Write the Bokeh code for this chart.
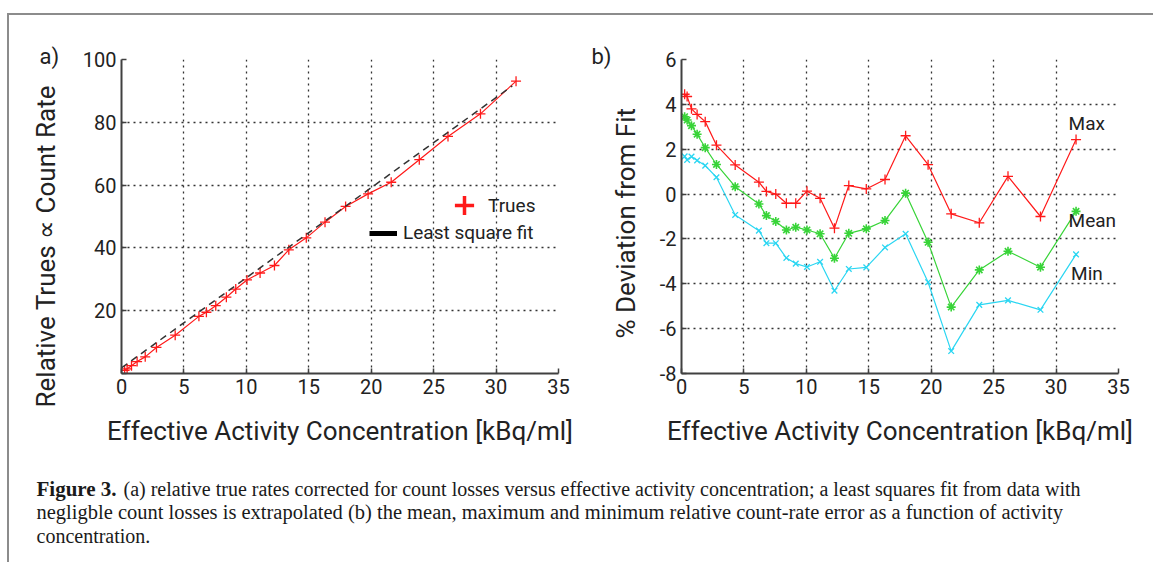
from bokeh.plotting import figure
from bokeh.models import Legend, LegendItem, Label, FixedTicker, Spacer, Range1d, Title
from bokeh.layouts import row, column
from bokeh.embed import file_html
from bokeh.resources import INLINE

# ---------------- data ----------------
conc = [0.25, 0.45, 0.8, 1.25, 1.9, 2.8, 4.3, 6.2, 6.8, 7.55, 8.4, 9.15, 10.05,
        11.1, 12.25, 13.4, 14.8, 16.3, 17.95, 19.75, 21.6, 23.85, 26.15, 28.75, 31.6]
trues = [1.0, 1.5, 2.5, 3.8, 5.3, 8.3, 12.2, 18.2, 19.5, 21.6, 24.3, 26.9, 29.8,
         32.0, 34.4, 39.4, 43.2, 48.2, 53.2, 57.2, 60.9, 68.1, 75.5, 82.7, 93.1]
fit_conc = [0.0, 31.3]
fit_trues = [1.8, 91.6]
dev_max = [4.45, 4.35, 3.8, 3.55, 3.23, 2.18, 1.3, 0.53, 0.12, 0.0, -0.41, -0.41, 0.13,
           -0.19, -1.52, 0.38, 0.23, 0.65, 2.6, 1.31, -0.88, -1.28, 0.79, -1.0, 2.43]
dev_mean = [3.45, 3.3, 3.05, 2.67, 2.07, 1.32, 0.33, -0.44, -0.96, -1.22, -1.6, -1.48, -1.6,
            -1.77, -2.86, -1.75, -1.55, -1.18, 0.04, -2.15, -5.04, -3.38, -2.55, -3.26, -0.77]
dev_min = [1.68, 1.52, 1.67, 1.5, 1.27, 0.75, -0.93, -1.63, -2.19, -2.19, -2.85, -3.1, -3.25,
           -3.02, -4.31, -3.34, -3.27, -2.38, -1.77, -3.93, -7.0, -4.94, -4.74, -5.16, -2.69]
x_ticks = [0, 5, 10, 15, 20, 25, 30, 35]
y_ticks_a = [0, 20, 40, 60, 80, 100]
y_ticks_b = [-8, -6, -4, -2, 0, 2, 4, 6]
x_label = "Effective Activity Concentration [kBq/ml]"
y_label_a = "Relative Trues \u221d Count Rate"
y_label_b = "% Deviation from  Fit"
caption_bold = "Figure 3."
caption_1 = ("(a) relative true rates corrected for count losses versus effective activity "
             "concentration; a least squares fit from data with")
caption_2 = ("negligble count losses is extrapolated (b) the mean, maximum and minimum relative "
             "count-rate error as a function of activity")
caption_3 = "concentration."

FONT = "Roboto"
AX = "#404040"
TXT = "#222222"
RED = "#ff1a1a"
GREEN = "#38d438"
CYAN = "#2ad6f2"
NAN = float("nan")


def make_fig(x_end, y_start, y_end, yticks, border_left, border_right, panel, panel_offset):
    p = figure(frame_width=437, frame_height=314,
               x_range=Range1d(0, x_end), y_range=Range1d(y_start, y_end),
               min_border_left=border_left, min_border_right=border_right,
               min_border_top=44, min_border_bottom=100,
               toolbar_location=None, output_backend="svg")
    p.outline_line_color = None
    p.background_fill_color = "white"
    p.border_fill_color = "white"
    p.title.text = panel
    p.title.align = "left"
    p.title.offset = panel_offset
    p.title.standoff = -18
    p.title.vertical_align = "bottom"
    p.title.text_font = FONT
    p.title.text_font_size = "22px"
    p.title.text_font_style = "normal"
    p.title.text_color = TXT
    p.xaxis.ticker = FixedTicker(ticks=x_ticks)
    p.yaxis.ticker = FixedTicker(ticks=yticks)
    p.xgrid.ticker = FixedTicker(ticks=x_ticks)
    p.ygrid.ticker = FixedTicker(ticks=yticks)
    p.yaxis.major_label_overrides = {t: ("-%d" % -t if t < 0 else "%d" % t) for t in yticks}
    for g in (p.xgrid, p.ygrid):
        g.grid_line_color = "#333333"
        g.grid_line_dash = "2 4"
        g.grid_line_width = 1.3
    for ax in (p.xaxis, p.yaxis):
        ax.axis_line_color = AX
        ax.axis_line_width = 2
        ax.major_tick_in = 5
        ax.major_tick_out = 0
        ax.major_tick_line_color = AX
        ax.major_tick_line_width = 1.5
        ax.minor_tick_line_color = None
        ax.major_label_text_font = FONT
        ax.major_label_text_font_size = "20px"
        ax.major_label_text_color = TXT
        ax.major_label_standoff = 5
        ax.axis_label_text_font = FONT
        ax.axis_label_text_font_size = "26px"
        ax.axis_label_text_font_style = "normal"
        ax.axis_label_text_color = TXT
    p.xaxis.axis_label = x_label
    p.xaxis.axis_label_standoff = 19
    return p


def side_title(text, offset, standoff):
    return Title(text=text, align="left", offset=offset, standoff=standoff,
                 vertical_align="bottom", text_font=FONT, text_font_size="26px",
                 text_font_style="normal", text_color=TXT)


# ---------------- panel a ----------------
p1 = make_fig(35, 0, 100, y_ticks_a, 112, 16, "a)", -82)
p1.yaxis.major_label_overrides = {0: "", 20: "20", 40: "40", 60: "60", 80: "80", 100: "100"}
p1.add_layout(side_title(y_label_a, -34, 38), "left")
p1.line(conc, trues, line_color=RED, line_width=1.2)
p1.scatter(conc, trues, marker="cross", size=10, line_color=RED, line_width=1.3)
p1.line(fit_conc, fit_trues, line_color="#333333", line_width=1.5, line_dash="7 5")

# legend proxies (NaN data: nothing drawn in the frame)
leg_tr = p1.scatter([NAN], [NAN], marker="cross", line_color=RED, line_width=3.5)
leg_fit = p1.line([NAN, NAN], [NAN, NAN], line_color="black", line_width=5)
lg1 = Legend(items=[LegendItem(label="Trues", renderers=[leg_tr])],
             location=(319, 144), glyph_width=48, glyph_height=48, label_height=20,
             label_standoff=-4, padding=0, margin=0, spacing=0,
             border_line_color=None, background_fill_alpha=0,
             label_text_font=FONT, label_text_font_size="19px", label_text_color=TXT)
lg2 = Legend(items=[LegendItem(label="Least square fit", renderers=[leg_fit])],
             location=(248, 129), glyph_width=28, glyph_height=20, label_height=20,
             label_standoff=6, padding=0, margin=0, spacing=0,
             border_line_color=None, background_fill_alpha=0,
             label_text_font=FONT, label_text_font_size="19px", label_text_color=TXT)
p1.add_layout(lg1)
p1.add_layout(lg2)

# ---------------- panel b ----------------
p2 = make_fig(35, -8, 6, y_ticks_b, 107, 35, "b)", -90)
p2.add_layout(side_title(y_label_b, 35, 32), "left")
p2.line(conc, dev_max, line_color=RED, line_width=1.2)
p2.scatter(conc, dev_max, marker="cross", size=10, line_color=RED, line_width=1.3)
p2.line(conc, dev_mean, line_color=GREEN, line_width=1.2)
p2.scatter(conc, dev_mean, marker="asterisk", size=9, line_color=GREEN, line_width=1.6)
p2.line(conc, dev_min, line_color=CYAN, line_width=1.2)
p2.scatter(conc, dev_min, marker="x", size=8, line_color=CYAN, line_width=1.3)
for txt, xx, yy in (("Max", 31.0, 3.16), ("Mean", 31.0, -1.2), ("Min", 31.2, -3.52)):
    p2.add_layout(Label(x=xx, y=yy, text=txt, text_font=FONT, text_font_size="19px",
                        text_color=TXT, text_baseline="middle", text_align="left"))

# ---------------- caption ----------------
cap = figure(width=1144, height=89, x_range=Range1d(0, 1144), y_range=Range1d(0, 89),
             min_border=0, toolbar_location=None, output_backend="svg",
             x_axis_type=None, y_axis_type=None)
cap.outline_line_color = None
cap.xgrid.visible = False
cap.ygrid.visible = False
CAPFONT = "Liberation Serif"
CAPCOL = "#1a1a1a"
cap.add_layout(Label(x=27, y=74, text=caption_bold, text_font=CAPFONT, text_font_size="21px",
                     text_font_style="bold", text_color=CAPCOL, text_baseline="middle"))
cap.add_layout(Label(x=114, y=74, text=caption_1, text_font=CAPFONT, text_font_size="20px",
                     text_color=CAPCOL, text_baseline="middle"))
cap.add_layout(Label(x=27, y=50.3, text=caption_2, text_font=CAPFONT, text_font_size="20.5px",
                     text_color=CAPCOL, text_baseline="middle"))
cap.add_layout(Label(x=27, y=27, text=caption_3, text_font=CAPFONT, text_font_size="20px",
                     text_color=CAPCOL, text_baseline="middle"))

# ---------------- page frame ----------------
GREY = "#8c8c8c"
top_line = Spacer(width=1146, height=2, styles={"background-color": GREY})
left_line = Spacer(width=2, height=547, styles={"background-color": GREY})
content = column(row(p1, p2), cap)
page = column(Spacer(width=1153, height=13),
              row(Spacer(width=7, height=549),
                  column(top_line, row(left_line, content))))

open("out.html", "w").write(file_html(page, INLINE))
